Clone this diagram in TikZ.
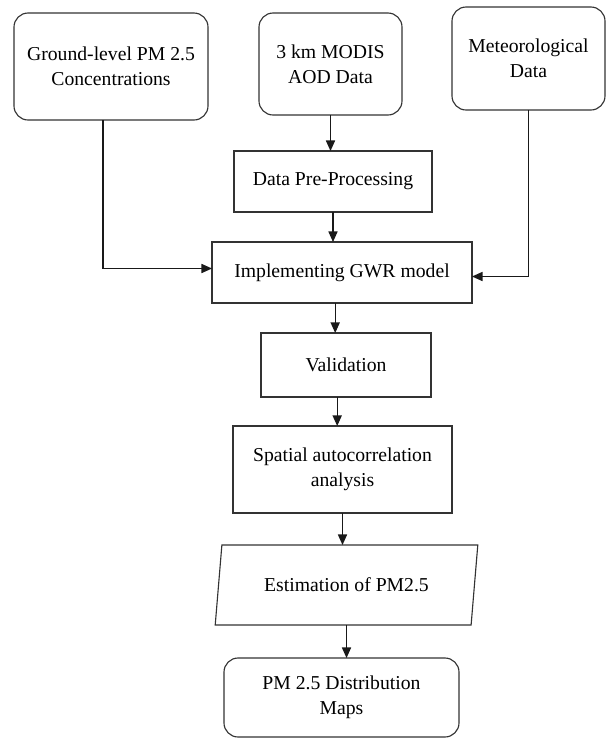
\documentclass[tikz,border=0pt]{standalone}
\usepackage{fontspec}
\setmainfont{Liberation Serif}
\usetikzlibrary{shapes.geometric,arrows.meta}

\begin{document}
\begin{tikzpicture}[x=0.025cm, y=-0.025cm,
roundbox/.style={rectangle, rounded corners=10pt, draw=black!80, thick, align=center, inner sep=2pt, outer sep=0pt, font=\fontsize{14}{17.5}\selectfont},
squarebox/.style={rectangle, draw=black!80, thick, align=center, inner sep=2pt, outer sep=0pt, font=\fontsize{14}{17.5}\selectfont},
databox/.style={trapezium, trapezium left angle=77, trapezium right angle=103, trapezium stretches=true, draw=black!80, thick, align=center, inner sep=2pt, outer sep=0pt, font=\fontsize{14}{17.5}\selectfont},
flow/.style={draw=black!90, thick, -{Triangle[length=7.5pt, width=6.5pt]}}
]
    \useasboundingbox (0,0) rectangle (606,738);

    \node [roundbox, minimum width=194*0.025cm, minimum height=107*0.025cm] (ground) at (111,66.5) {Ground-level PM 2.5\\Concentrations};
    \node [roundbox, minimum width=143*0.025cm, minimum height=102*0.025cm] (modis) at (330.5,64) {3 km MODIS\\AOD Data};
    \node [roundbox, minimum width=153*0.025cm, minimum height=103*0.025cm] (meteo) at (528.5,58.5) {Meteorological\\Data};

    \node [squarebox, minimum width=198*0.025cm, minimum height=61*0.025cm] (prep) at (333,181.5) {Data Pre-Processing};
    \node [squarebox, minimum width=260*0.025cm, minimum height=61*0.025cm] (gwr) at (342,272.5) {Implementing GWR model};
    \node [squarebox, minimum width=170*0.025cm, minimum height=64*0.025cm] (valid) at (346,365) {Validation};
    \node [squarebox, minimum width=219*0.025cm, minimum height=87*0.025cm] (spatial) at (342.5,469.5) {Spatial autocorrelation\\analysis};

    \node [databox, minimum width=263*0.025cm, minimum height=80*0.025cm] (estim) at (346.5,585) {Estimation of PM2.5};

    \node [roundbox, minimum width=235*0.025cm, minimum height=79*0.025cm] (maps) at (341.5,697.5) {PM 2.5 Distribution\\Maps};

    \draw [flow] (modis.south) -- (modis.south |- prep.north);
    \draw [flow] (prep.south) -- (prep.south |- gwr.north);
    \draw [flow] ([xshift=-0.2cm]ground.south) |- ([yshift=0.1cm]gwr.west);
    \draw [flow] (meteo.south) |- ([yshift=-0.1cm]gwr.east);
    \draw [flow] ([xshift=-0.17cm]gwr.south) -- ([xshift=-0.17cm]gwr.south |- valid.north);
    \draw [flow] ([xshift=-0.22cm]valid.south) -- ([xshift=-0.22cm]valid.south |- spatial.north);
    \draw [flow] (spatial.south) -- (spatial.south |- estim.north);
    \draw [flow] (estim.south) -- (estim.south |- maps.north);
\end{tikzpicture}
\end{document}
